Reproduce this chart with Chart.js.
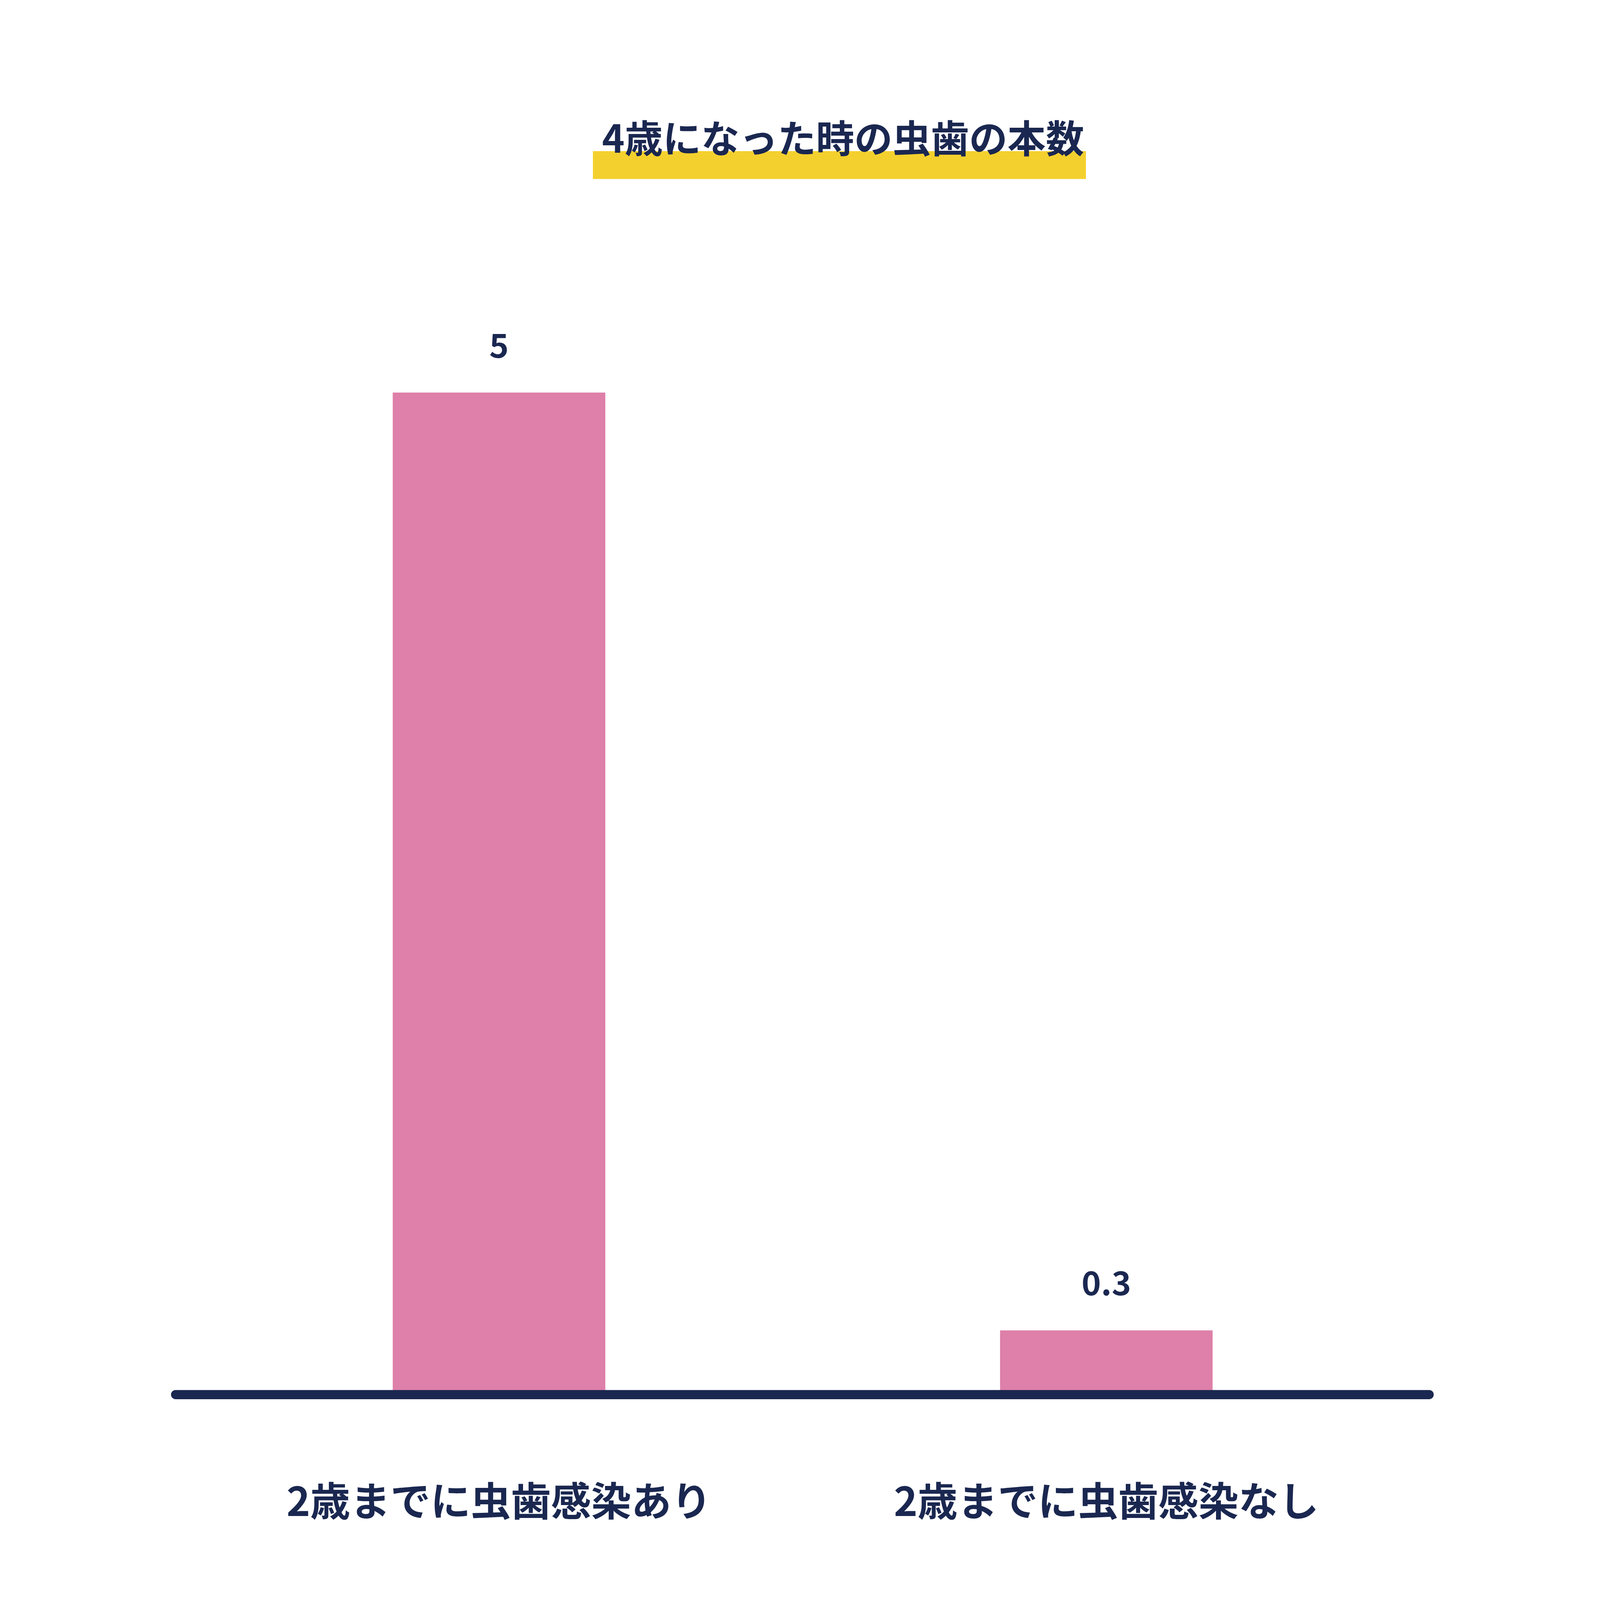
<!DOCTYPE html>
<html>
<head>
<meta charset="utf-8">
<script src="https://cdn.jsdelivr.net/npm/chart.js@4"></script>
<style>
  html, body { margin: 0; padding: 0; background: #ffffff; overflow: hidden; }
  #wrap { position: relative; width: 100vw; height: 100vh; }
</style>
</head>
<body>
<div id="wrap"><canvas id="cariesChart"></canvas></div>
<script>
var chartTitle = "4歳になった時の虫歯の本数";
var categories = ["2歳までに虫歯感染あり", "2歳までに虫歯感染なし"];
var cariesCount = [5, 0.3];

var navy = "#1a2750";
var pink = "#de80a9";
var yellow = "#f4d02e";
var jpFont = "'Noto Sans CJK JP', 'Noto Sans', sans-serif";

// layout was measured on a 7772 x 4362 picture, scale it to the window
var W = window.innerWidth;
var H = window.innerHeight;
var sx = W / 7772;
var sy = H / 4362;

var tickFont = 195 * sx;
var tickLine = tickFont * 1.2;
var tickPad = 293 * sy - tickLine / 2;
var axisHeight = tickPad + tickLine;
var padBottom = H - 3790 * sy - axisHeight;

// title with yellow marker underline, drawn before the bars
var titlePlugin = {
    id: "markerTitle",
    beforeDraw: function (chart) {
        var ctx = chart.ctx;
        var markTop = 412 * sy;
        ctx.save();
        ctx.fillStyle = yellow;
        ctx.fillRect(2880 * sx, markTop, 2395 * sx, 76 * sy);
        ctx.fillStyle = navy;
        ctx.font = "bold " + (186 * sx) + "px " + jpFont;
        ctx.textAlign = "center";
        ctx.textBaseline = "bottom";
        ctx.fillText(chartTitle, 4095 * sx, markTop + 30 * sx);
        ctx.restore();
    }
};

// baseline rule and value labels above the bars
var barLabelPlugin = {
    id: "barLabels",
    afterDatasetsDraw: function (chart) {
        var ctx = chart.ctx;
        var area = chart.chartArea;
        var zeroY = chart.scales.y.getPixelForValue(0);
        ctx.save();
        ctx.strokeStyle = navy;
        ctx.lineWidth = 25 * sy;
        ctx.lineCap = "round";
        ctx.beginPath();
        ctx.moveTo(area.left - 96 * sx, zeroY + 12 * sy);
        ctx.lineTo(area.right + 93 * sx, zeroY + 12 * sy);
        ctx.stroke();

        ctx.fillStyle = navy;
        ctx.font = "bold " + (160 * sx) + "px " + jpFont;
        ctx.textAlign = "center";
        ctx.textBaseline = "alphabetic";
        chart.getDatasetMeta(0).data.forEach(function (bar, i) {
            ctx.fillText(String(cariesCount[i]), bar.x, bar.y - 95 * sy);
        });
        ctx.restore();
    }
};

var ctx = document.getElementById("cariesChart").getContext("2d");
var cariesChart = new Chart(ctx, {
    type: "bar",
    data: {
        labels: categories,
        datasets: [{
            label: chartTitle,
            data: cariesCount,
            backgroundColor: pink,
            borderWidth: 0,
            categoryPercentage: 1,
            barPercentage: 0.35
        }]
    },
    options: {
        responsive: true,
        maintainAspectRatio: false,
        animation: false,
        layout: {
            autoPadding: false,
            padding: { left: 949 * sx, right: 923 * sx, top: 1070 * sy, bottom: padBottom }
        },
        plugins: {
            legend: { display: false },
            title: { display: false },
            tooltip: { enabled: false }
        },
        scales: {
            x: {
                grid: { display: false },
                border: { display: false },
                afterFit: function (scale) {
                    scale.height = axisHeight;
                },
                ticks: {
                    padding: tickPad,
                    color: navy,
                    maxRotation: 0,
                    font: { family: jpFont, size: tickFont, weight: "bold", lineHeight: 1.2 }
                }
            },
            y: {
                display: false,
                min: 0,
                max: 5
            }
        }
    },
    plugins: [titlePlugin, barLabelPlugin]
});
</script>
</body>
</html>
